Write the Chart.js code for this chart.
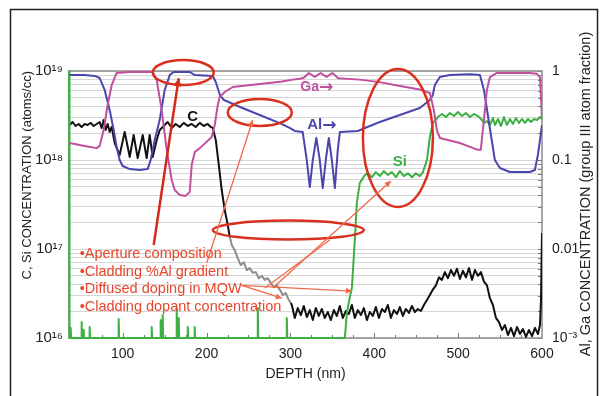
<!DOCTYPE html>
<html><head><meta charset="utf-8">
<style>html,body{margin:0;padding:0;background:#fff;}canvas{display:block;}</style>
<script src="https://cdn.jsdelivr.net/npm/chart.js@4.4.1/dist/chart.umd.min.js"></script>
</head><body>
<canvas id="c" width="608" height="396"></canvas>
<script>
// ---- tick labels ----
const depthTicks = [100, 200, 300, 400, 500, 600];
const leftTickValues = [1e16, 1e17, 1e18, 1e19];
const leftTickLabels = ['10¹⁶', '10¹⁷', '10¹⁸', '10¹⁹'];
const rightTickValues = [1e-3, 0.01, 0.1, 1];
const rightTickLabels = ['10⁻³', '0.01', '0.1', '1'];

// ---- C (atoms/cc) ----
const cDepth = [36.8,40.3,43.9,47.5,51.1,54.7,58.2,61.8,65.4,69.0,
 72.6,74.9,77.3,79.7,82.1,84.5,86.9,90.5,96.4,102.4,
 108.4,113.1,117.9,123.9,128.6,132.2,135.8,140.6,144.2,148.9,
 153.7,158.5,163.2,168.0,172.8,177.6,182.3,187.1,191.9,196.7,
 201.4,205.0,207.4,211.0,214.6,218.1,221.7,225.3,227.7,230.1,
 233.6,237.2,240.8,244.4,248.0,251.5,255.1,258.7,262.3,265.9,
 269.4,273.0,276.6,280.2,283.8,287.3,290.9,294.5,298.1,300.5,
 301.7,305.2,308.8,312.4,316.0,319.6,323.1,326.7,330.3,333.9,
 337.5,341.0,344.6,348.2,351.8,355.4,358.9,362.5,366.1,369.7,
 373.3,376.8,380.4,384.0,387.6,391.2,394.7,398.3,401.9,405.5,
 409.1,412.6,416.2,419.8,423.4,427.0,430.5,434.1,437.7,441.3,
 444.9,448.4,452.0,455.6,459.2,462.8,466.3,469.9,473.5,477.1,
 480.7,484.2,487.8,491.4,495.0,498.6,502.1,505.7,509.3,512.9,
 516.5,520.0,523.6,527.2,530.8,534.4,537.9,541.5,545.1,548.7,
 552.3,555.8,559.4,563.0,566.6,570.2,573.7,577.3,580.9,584.5,
 588.1,591.6,595.2,597.6,598.8,600];
const cConc = [2.47e18,2.67e18,2.41e18,2.54e18,2.35e18,2.54e18,2.47e18,2.61e18,2.41e18,2.54e18,
 2.67e18,2.29e18,2.81e18,2.17e18,2.54e18,2.07e18,2.35e18,1.55e18,1.14e18,2.07e18,
 1.08e18,1.91e18,1.05e18,1.91e18,1.05e18,1.91e18,1.08e18,1.68e18,2.17e18,2.41e18,
 2.67e18,2.29e18,2.54e18,2.35e18,2.61e18,2.41e18,2.54e18,2.35e18,2.61e18,2.41e18,
 2.54e18,2.35e18,2.29e18,1.68e18,8.8e17,4.6e17,2.74e17,1.86e17,1.37e17,1.11e17,
 9.7e16,7.9e16,6.6e16,7.1e16,5.8e16,6.1e16,5.4e16,5.5e16,4.7e16,5.0e16,
 4.5e16,4.7e16,4.15e16,3.7e16,3.9e16,3.5e16,3.04e16,3.2e16,2.67e16,2.47e16,
 2.35e16,1.68e16,2.17e16,1.81e16,2.29e16,1.72e16,2.06e16,1.59e16,2.17e16,1.77e16,
 2.12e16,1.68e16,1.96e16,1.59e16,2.06e16,1.77e16,2.29e16,1.68e16,2.01e16,1.86e16,
 2.35e16,1.68e16,2.06e16,1.81e16,2.17e16,1.59e16,1.96e16,1.77e16,2.23e16,1.68e16,
 2.12e16,1.96e16,2.35e16,1.68e16,2.06e16,1.86e16,2.23e16,1.77e16,2.12e16,1.91e16,
 2.29e16,1.96e16,2.12e16,2.01e16,2.35e16,2.67e16,3.04e16,3.5e16,3.9e16,4.8e16,
 4.5e16,5.5e16,4.7e16,5.8e16,5.0e16,6.0e16,4.6e16,5.7e16,4.8e16,6.1e16,
 4.5e16,5.8e16,5.0e16,5.5e16,4.3e16,3.9e16,2.8e16,2.35e16,1.68e16,1.51e16,
 1.23e16,1.40e16,1.08e16,1.30e16,1.05e16,1.33e16,1.11e16,1.26e16,1.03e16,1.23e16,
 1.05e16,1.30e16,1.11e16,1.40e16,2.67e16,1.51e17];

// ---- Si (atoms/cc) ----
const siDepth = [36.0,36.6, 37.4,38.0,38.6, 50.5,51.1,51.7, 53.0,53.5,54.0, 60.0,60.6,61.2,
 94.6,95.2,95.8, 134.0,134.6,135.2, 144.8,145.3,145.9, 147.2,147.7,148.3, 163.8,164.4,165.0,
 166.3,166.8,167.4, 177.0,177.6,178.2, 185.3,185.9,186.5, 260.5,261.1,261.7, 295.1,295.7,296.3,
 364.9,367.3,370.9,373.3,376.8,379.2,382.7,388.8,
 392.4,397.1,401.9,406.6,411.4,416.2,421.0,425.8,430.5,435.3,440.1,444.9,449.6,454.4,458.0,
 462.8,466.3,469.9,475.9,480.7,485.4,490.2,495.0,499.8,504.5,
 509.3,514.1,518.8,523.6,527.2,530.8,534.4,537.9,541.5,543.9,
 547.5,551.1,554.6,558.2,561.8,565.4,569.0,572.6,576.1,579.7,
 583.3,586.9,590.5,594.0,597.6,600];
const siConc = [1e19,1e16, 1e16,1.3e16,1e16, 1e16,1.51e16,1e16, 1e16,1.23e16,1e16, 1e16,1.33e16,1e16,
 1e16,1.63e16,1e16, 1e16,1.33e16,1e16, 1e16,1.59e16,1e16, 1e16,1.81e16,1e16, 1e16,2.17e16,1e16,
 1e16,1.68e16,1e16, 1e16,1.33e16,1e16, 1e16,1.33e16,1e16, 1e16,2.17e16,1e16, 1e16,1.68e16,1e16,
 1e16,1.91e16,2.89e16,3.65e16,1.26e17,3.3e17,5.5e17,6.8e17,
 7.1e17,6.4e17,7.3e17,6.6e17,7.5e17,6.8e17,7.3e17,6.4e17,7.5e17,6.6e17,7.1e17,6.4e17,7.1e17,6.6e17,7.3e17,
 1e18,1.81e18,2.61e18,3.04e18,3.29e18,3.04e18,3.37e18,3.12e18,3.46e18,3.12e18,
 3.37e18,3.04e18,3.29e18,3.12e18,2.89e18,2.61e18,2.74e18,2.47e18,2.97e18,2.47e18,
 2.89e18,2.41e18,3.04e18,2.47e18,2.89e18,2.54e18,2.97e18,2.61e18,2.89e18,2.61e18,
 2.89e18,2.67e18,2.89e18,2.81e18,3.04e18,2.89e18];

// ---- Al (group III atom fraction) ----
const alDepth = [36.8,54.7,66.6,72.6,78.5,84.5,89.3,92.8,96.4,100.0,
 108.4,120.3,129.8,133.4,138.2,144.1,150.1,156.1,160.8,180.0,
 186.0,207.5,211.0,216.0,220.8,240.0,263.4,287.3,299.2,305.2,
 314.7,319.5,323.1,326.7,330.9,335.0,338.6,342.2,345.8,349.4,
 353.0,356.5,359.0,380.4,388.8,406.6,430.5,454.3,466.3,469.8,
 472.2,478.2,490.0,514.0,526.0,530.8,537.8,543.8,549.8,561.7,
 585.6,591.5,595.1,600];
const alFrac = [0.90,0.90,0.88,0.834,0.612,0.365,0.217,0.14,0.10,0.0856,
 0.0791,0.0771,0.0791,0.10,0.168,0.281,0.612,0.90,0.974,0.974,
 0.90,0.879,0.752,0.537,0.472,0.394,0.32,0.26,0.229,0.212,
 0.206,0.10,0.0497,0.10,0.177,0.10,0.0484,0.10,0.177,0.10,
 0.0484,0.13,0.206,0.212,0.229,0.267,0.32,0.384,0.472,0.537,
 0.696,0.856,0.90,0.92,0.90,0.612,0.229,0.10,0.0812,0.0733,
 0.0733,0.0771,0.114,0.247];

// ---- Ga (group III atom fraction) ----
const gaDepth = [36.8,54.7,69.0,72.6,77.3,82.1,86.9,92.8,108.4,135.8,
 140.6,146.5,152.5,158.5,162.0,168.0,175.2,180.0,182.3,186.0,
 192.0,206.2,209.8,213.4,215.7,221.7,231.3,263.4,290.0,302.8,
 311.2,316.0,322.0,329.0,336.0,343.0,350.0,357.0,382.7,406.6,
 430.5,454.3,466.3,471.0,474.6,478.2,502.0,523.5,527.0,530.7,
 534.3,537.9,546.2,585.6,593.9,597.5,600];
const gaFrac = [0.155,0.144,0.136,0.144,0.217,0.415,0.696,0.95,0.974,0.974,
 0.792,0.365,0.13,0.0596,0.046,0.0404,0.0395,0.0438,0.0879,0.123,
 0.136,0.181,0.247,0.415,0.51,0.581,0.661,0.715,0.76,0.80,
 0.82,0.84,0.95,0.86,0.95,0.86,0.95,0.83,0.80,0.75,
 0.68,0.62,0.566,0.365,0.217,0.177,0.155,0.13,0.13,0.281,
 0.612,0.856,0.95,0.95,0.93,0.85,0.30];

// ---- annotations (depth nm, left-axis value) ----
const notes = ['•Aperture composition', '•Cladding %Al gradient', '•Diffused doping in MQW', '•Cladding dopant concentration'];
const notesAnchor = [48.7, 7.9e16];
const ellipses = [
  {d: 172.2, v: 9.6e18, rx: 30.5, ry: 12.5},
  {d: 263.5, v: 3.42e18, rx: 32, ry: 13.5},
  {d: 428.2, v: 1.77e18, rx: 35, ry: 69},
  {d: 297.5, v: 1.63e17, rx: 75.5, ry: 9.5}
];
const arrows = [
  {from: [137.0, 1.11e17], to: [166.8, 8.3e18], heavy: true, head: true},
  {from: [200.2, 6.97e16], to: [255.1, 2.81e18], head: true},
  {from: [242.0, 3.9e16], to: [289.7, 2.8e16], head: true},
  {from: [242.0, 3.9e16], to: [373.3, 3.37e16], head: true},
  {from: [269.4, 3.65e16], to: [347.0, 1.26e17], head: false},
  {from: [280.2, 3.74e16], to: [419.8, 5.8e17], head: true}
];
const seriesLabels = [
  {t: 'C', a: '', d: 183.5, v: 3.04e18, c: '#111111', f: 'bold 15px'},
  {t: 'Ga', a: '→', d: 331.5, v: 6.6e18, c: '#c24f9e', f: 'bold 14px'},
  {t: 'Al', a: '→', d: 337.5, v: 2.47e18, c: '#4a46b0', f: 'bold 15px'},
  {t: 'Si', a: '', d: 430.5, v: 9.5e17, c: '#3cb043', f: 'bold 15px'}
];

const FONT = 'Arial, "Liberation Sans", Helvetica, sans-serif';
Chart.defaults.font.family = FONT;
Chart.defaults.color = '#222';

const pts = (xs, ys) => xs.map((x, i) => ({x, y: ys[i]}));

const minorLeft = [];
for (let e = 16; e < 19; e++) for (let m = 1; m < 10; m++) minorLeft.push(m === 1 ? leftTickValues[e - 16] : m * Math.pow(10, e));
minorLeft.push(leftTickValues[3]);

const deco = {
  id: 'deco',
  beforeDatasetsDraw(chart) {
    const {ctx, chartArea: a, scales} = chart;
    ctx.save();
    ctx.strokeStyle = '#777'; ctx.lineWidth = 1;
    for (let d = 50; d < 600; d += 25) {
      const px = Math.round(scales.x.getPixelForValue(d)) + 0.5;
      ctx.beginPath(); ctx.moveTo(px, a.bottom); ctx.lineTo(px, a.bottom - (d % 100 === 0 ? 5 : 3)); ctx.stroke();
    }
    for (const v of minorLeft) {
      const py = Math.round(scales.y.getPixelForValue(v)) + 0.5;
      ctx.beginPath(); ctx.moveTo(a.right, py); ctx.lineTo(a.right - 4, py); ctx.stroke();
    }
    ctx.strokeStyle = '#8a8a8a'; ctx.lineWidth = 1.5;
    ctx.strokeRect(a.left, a.top, a.right - a.left, a.bottom - a.top);
    ctx.restore();
  },
  afterDraw(chart) {
    const {ctx, scales} = chart;
    const X = d => scales.x.getPixelForValue(d), Y = v => scales.y.getPixelForValue(v);
    ctx.save();
    // ellipses
    ctx.strokeStyle = '#d93020'; ctx.lineWidth = 2.5;
    for (const e of ellipses) {
      ctx.beginPath(); ctx.ellipse(X(e.d), Y(e.v), e.rx, e.ry, 0, 0, Math.PI * 2); ctx.stroke();
    }
    // arrows
    for (const ar of arrows) {
      const x0 = X(ar.from[0]), y0 = Y(ar.from[1]), x1 = X(ar.to[0]), y1 = Y(ar.to[1]);
      const col = ar.heavy ? '#d42a1a' : '#ef6a48';
      ctx.strokeStyle = col; ctx.fillStyle = col; ctx.lineWidth = ar.heavy ? 2.5 : 1.3;
      ctx.beginPath(); ctx.moveTo(x0, y0); ctx.lineTo(x1, y1); ctx.stroke();
      if (ar.head) {
        const ang = Math.atan2(y1 - y0, x1 - x0), L = ar.heavy ? 8 : 6, W = ar.heavy ? 4 : 3;
        ctx.beginPath();
        ctx.moveTo(x1, y1);
        ctx.lineTo(x1 - L * Math.cos(ang) + W * Math.sin(ang), y1 - L * Math.sin(ang) - W * Math.cos(ang));
        ctx.lineTo(x1 - L * Math.cos(ang) - W * Math.sin(ang), y1 - L * Math.sin(ang) + W * Math.cos(ang));
        ctx.closePath(); ctx.fill();
      }
    }
    // notes
    ctx.fillStyle = '#e8462c'; ctx.font = '14.5px ' + FONT; ctx.textAlign = 'left'; ctx.textBaseline = 'alphabetic';
    const nx = X(notesAnchor[0]), ny = Y(notesAnchor[1]);
    notes.forEach((t, i) => ctx.fillText(t, nx, ny + i * 17.5));
    // series labels
    ctx.textBaseline = 'middle';
    for (const s of seriesLabels) {
      ctx.fillStyle = s.c; ctx.font = s.f + ' ' + FONT;
      const w1 = ctx.measureText(s.t).width;
      ctx.font = 'bold 17px "DejaVu Sans", ' + FONT;
      const w2 = s.a ? ctx.measureText(s.a).width : 0;
      let x = X(s.d) - (w1 + w2) / 2; const y = Y(s.v);
      ctx.textAlign = 'left';
      ctx.font = s.f + ' ' + FONT; ctx.fillText(s.t, x, y);
      if (s.a) { ctx.font = 'bold 17px "DejaVu Sans", ' + FONT; ctx.fillText(s.a, x + w1, y + 1); }
    }
    // right axis title
    ctx.fillStyle = '#222'; ctx.font = '14.5px ' + FONT; ctx.textAlign = 'center';
    ctx.translate(586, 194); ctx.rotate(-Math.PI / 2);
    ctx.fillText('Al, Ga CONCENTRATION (group III atom fraction)', 0, 0);
    ctx.restore();
    // outer frame
    ctx.save(); ctx.strokeStyle = '#222'; ctx.lineWidth = 1.5;
    ctx.strokeRect(10.5, 9.5, 587, 420); ctx.restore();
  }
};

const lineDs = (label, data, color, axis, extra) => Object.assign({
  label, data, borderColor: color, backgroundColor: color, yAxisID: axis,
  borderWidth: 2, pointRadius: 0, tension: 0, fill: false, borderJoinStyle: 'round'
}, extra || {});

new Chart(document.getElementById('c'), {
  type: 'line',
  data: {
    datasets: [
      lineDs('Ga', pts(gaDepth, gaFrac), '#c24f9e', 'y2'),
      lineDs('Al', pts(alDepth, alFrac), '#4a46b0', 'y2'),
      lineDs('Si', pts(siDepth, siConc), '#3cb043', 'y', {clip: 4}),
      lineDs('C', pts(cDepth, cConc), '#111111', 'y', {
        segment: {borderColor: ctx => (ctx.p0.parsed.x >= 227 && ctx.p1.parsed.x <= 301) ? '#8c8c8c' : '#111111'}
      })
    ]
  },
  options: {
    responsive: false, animation: false, devicePixelRatio: 1,
    layout: {padding: {top: 71, left: 0, right: 0, bottom: 0}},
    plugins: {legend: {display: false}, tooltip: {enabled: false}},
    scales: {
      x: {
        type: 'linear', min: 36, max: 600,
        afterBuildTicks: s => { s.ticks = depthTicks.map(v => ({value: v})); },
        afterFit: s => { s.height = 58; },
        grid: {display: false, drawTicks: false},
        border: {display: false},
        ticks: {font: {size: 14}, padding: 8, autoSkip: false, maxRotation: 0, color: '#222'},
        title: {display: true, text: 'DEPTH (nm)', font: {size: 14}, color: '#222', padding: {top: 0, bottom: 13}}
      },
      y: {
        type: 'logarithmic', position: 'left', min: 1e16, max: 1e19,
        afterBuildTicks: s => { s.ticks = minorLeft.map(v => ({value: v})); },
        afterFit: s => { s.width = 69; },
        grid: {color: '#d6d6d6', lineWidth: 1, drawTicks: false},
        border: {display: false},
        ticks: {
          font: {size: 15}, padding: 6, autoSkip: false, color: '#222',
          callback: v => { const i = leftTickValues.indexOf(v); return i >= 0 ? leftTickLabels[i] : ''; }
        },
        title: {display: true, text: 'C, Si CONCENTRATION (atoms/cc)', align: 'end', font: {size: 13}, color: '#222', padding: {top: 20, bottom: 0}}
      },
      y2: {
        type: 'logarithmic', position: 'right', min: 1e-3, max: 1,
        afterBuildTicks: s => { s.ticks = rightTickValues.map(v => ({value: v})); },
        afterFit: s => { s.width = 66; },
        grid: {display: false, drawTicks: false},
        border: {display: false},
        ticks: {
          font: {size: 14}, padding: 10, autoSkip: false, color: '#222',
          callback: v => { const i = rightTickValues.indexOf(v); return i >= 0 ? rightTickLabels[i] : ''; }
        }
      }
    }
  },
  plugins: [deco]
});
</script>
</body></html>
